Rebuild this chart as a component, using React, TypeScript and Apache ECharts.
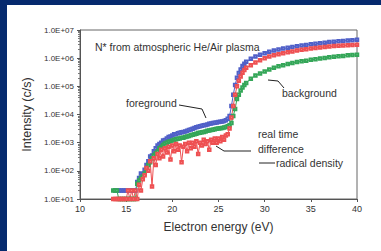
import React, { useEffect, useRef } from "react";
import * as echarts from "echarts";

const energy = [
  13.6, 13.8, 14.0, 14.2, 14.4, 14.6, 14.8, 15.0, 15.2, 15.4, 15.6, 15.8, 16.0,
  16.2, 16.4, 16.6, 16.8, 17.0, 17.2, 17.4, 17.6, 17.8, 18.0,
  18.2, 18.4, 18.6, 18.8, 19.0, 19.2, 19.4, 19.6, 19.8, 20.0,
  20.2, 20.4, 20.6, 20.8, 21.0, 21.2, 21.4, 21.6, 21.8, 22.0,
  22.2, 22.4, 22.6, 22.8, 23.0, 23.2, 23.4, 23.6, 23.8, 24.0,
  24.2, 24.4, 24.6, 24.8, 25.0, 25.2, 25.4, 25.6, 25.8, 26.0,
  26.2, 26.4, 26.6, 26.8, 27.0, 27.2, 27.4, 27.6, 27.8, 28.0,
  28.5, 29.0, 29.5, 30.0, 30.5, 31.0, 31.5, 32.0, 32.5, 33.0, 33.5, 34.0,
  34.5, 35.0, 35.5, 36.0, 36.5, 37.0, 37.5, 38.0, 38.5, 39.0, 39.5, 40.0,
];

const foreground = [
  null, 20, 20, 20, 20, 20, 20, 20, 20, 20, 20, 20, 20,
  40, 56, 80, 70, 110, 160, 220, 320, 350, 500,
  630, 800, 900, 1000, 1200, 1250, 1400, 1580, 1650, 1800,
  2000, 2000, 2150, 2250, 2350, 2400, 2500, 2650, 2800, 2950,
  3150, 3300, 3550, 3700, 3800, 4000, 4150, 4250, 4450, 4700,
  4800, 5000, 5100, 5250, 5400, 5500, 5600, 5900, 6300, 7100,
  8900, 20000, 50000, 112000, 200000, 300000, 400000, 525000, 630000, 740000,
  955000, 1150000, 1320000, 1510000, 1700000, 1860000, 2040000, 2190000, 2340000, 2510000, 2630000, 2820000,
  2950000, 3090000, 3240000, 3390000, 3550000, 3720000, 3800000, 3980000, 4070000, 4270000, 4370000, 4470000,
];

const background = [
  20, 20, 20, 10, 10, 10, 10, 10, 10, 10, 10, 10, 10,
  35, 45, 56, 63, 80, 112, 160, 200, 280, 355,
  420, 500, 630, 710, 830, 930, 1000, 1070, 1120, 1200,
  1260, 1320, 1380, 1410, 1480, 1510, 1580, 1660, 1740, 1820,
  1900, 2000, 2090, 2190, 2240, 2340, 2400, 2510, 2630, 2690,
  2820, 2880, 3020, 3090, 3160, 3240, 3310, 3470, 3630, 3800,
  4170, 5000, 8900, 15800, 35500, 50000, 70800, 91000, 112000, 132000,
  186000, 240000, 288000, 339000, 398000, 457000, 513000, 562000, 617000, 676000, 724000, 776000,
  813000, 871000, 912000, 977000, 1020000, 1070000, 1120000, 1170000, 1200000, 1260000, 1290000, 1320000,
];

const difference = [
  10, 10, 10, 10, 10, 10, 10, 10, 20, 10, 20, 10, 20,
  10, 32, 20, 50, 70, 126, 100, 220, 28, 280,
  160, 400, 280, 560, 320, 630, 450, 710, 250, 800,
  500, 890, 560, 800, 200, 710, 890, 500, 1000, 630,
  1000, 710, 1120, 400, 1000, 800, 1260, 890, 1120, 560,
  1260, 1000, 1410, 1000, 1410, 1120, 1580, 1260, 1780, 2000,
  3160, 7900, 20000, 50000, 100000, 158000, 224000, 302000, 380000, 457000,
  562000, 708000, 851000, 1000000, 1150000, 1260000, 1380000, 1510000, 1620000, 1740000, 1860000, 2000000,
  2090000, 2190000, 2290000, 2400000, 2510000, 2570000, 2690000, 2750000, 2820000, 2880000, 2950000, 3020000,
];

const yTickLabels = ["1.0E+01", "1.0E+02", "1.0E+03", "1.0E+04", "1.0E+05", "1.0E+06", "1.0E+07"];

const FONT = "'Liberation Sans', Arial, sans-serif";
const TXT = "#333333";

export default function App() {
  const ref = useRef<HTMLDivElement>(null);
  useEffect(() => {
    document.body.style.margin = "0";
    const chart = echarts.init(ref.current!, undefined, { renderer: "svg" });
    const pair = (ys: (number | null)[]) => energy.map((x, i) => [x, ys[i] == null ? "-" : ys[i]]);
    const mk = (name: string, ys: (number | null)[], color: string) => ({
      name,
      type: "line",
      data: pair(ys),
      symbol: "emptyRect",
      symbolSize: 2.5,
      showSymbol: true,
      lineStyle: { color, width: 1 },
      itemStyle: { color, borderWidth: 0.7 },
      connectNulls: false,
    });
    chart.setOption({
      animation: false,
      backgroundColor: "transparent",
      grid: { left: 80, top: 30, right: 24, bottom: 52, show: true, borderColor: "#666", borderWidth: 1, backgroundColor: "transparent" },
      xAxis: {
        type: "value",
        min: 10,
        max: 40,
        interval: 5,
        name: "Electron energy (eV)",
        nameLocation: "middle",
        nameGap: 22,
        nameTextStyle: { fontFamily: FONT, fontSize: 12, color: TXT },
        axisLine: { lineStyle: { color: "#555" } },
        axisTick: { show: true, length: 3, lineStyle: { color: "#555" } },
        axisLabel: { fontFamily: FONT, fontSize: 9, color: TXT, margin: 5 },
        splitLine: { show: false },
      },
      yAxis: {
        type: "log",
        logBase: 10,
        min: 10,
        max: 10000000,
        name: "Intensity (c/s)",
        nameLocation: "middle",
        nameGap: 45,
        nameTextStyle: { fontFamily: FONT, fontSize: 12.5, color: TXT },
        axisLine: { show: true, lineStyle: { color: "#555" } },
        axisTick: { show: true, length: 3, lineStyle: { color: "#555" } },
        minorTick: { show: true, splitNumber: 9, length: 2, lineStyle: { color: "#777" } },
        axisLabel: {
          fontFamily: FONT,
          fontSize: 8,
          color: TXT,
          margin: 6,
          formatter: (v: number) => yTickLabels[Math.round(Math.log10(v)) - 1] ?? "",
        },
        splitLine: { show: false },
      },
      series: [
        mk("foreground", foreground, "#5060c8"),
        mk("background", background, "#34a658"),
        mk("real time difference", difference, "#ee5052"),
      ],
      graphic: [
        { type: "text", x: 95, y: 47, style: { text: "N* from atmospheric He/Air plasma", font: `10.5px ${FONT}`, fill: TXT, textVerticalAlign: "middle" } },
        { type: "text", x: 126, y: 103, style: { text: "foreground", font: `10.5px ${FONT}`, fill: TXT, textVerticalAlign: "middle" } },
        { type: "polyline", shape: { points: [[179, 105], [202, 109], [206, 118]] }, style: { stroke: "#222", lineWidth: 1, fill: "none" } },
        { type: "text", x: 282, y: 93, style: { text: "background", font: `10.5px ${FONT}`, fill: TXT, textVerticalAlign: "middle" } },
        { type: "polyline", shape: { points: [[268, 80], [278, 81], [284, 88]] }, style: { stroke: "#222", lineWidth: 1, fill: "none" } },
        { type: "text", x: 258, y: 134, style: { text: "real time", font: `10.5px ${FONT}`, fill: TXT, textVerticalAlign: "middle" } },
        { type: "text", x: 258, y: 149, style: { text: "difference", font: `10.5px ${FONT}`, fill: TXT, textVerticalAlign: "middle" } },
        { type: "polyline", shape: { points: [[216, 146], [224, 151], [251, 151]] }, style: { stroke: "#222", lineWidth: 1, fill: "none" } },
        { type: "line", shape: { x1: 259, y1: 163, x2: 275, y2: 163 }, style: { stroke: "#222", lineWidth: 1 } },
        { type: "text", x: 276, y: 163, style: { text: "radical density", font: `10.5px ${FONT}`, fill: TXT, textVerticalAlign: "middle" } },
      ],
    });
    return () => chart.dispose();
  }, []);
  return (
    <div style={{ position: "relative", width: 381, height: 251, background: "#062a6e", overflow: "hidden" }}>
      <div style={{ position: "absolute", left: 7, top: 5, right: 0, bottom: 0, background: "#ffffff" }} />
      <div ref={ref} style={{ position: "absolute", left: 0, top: 0, width: 381, height: 251 }} />
    </div>
  );
}
